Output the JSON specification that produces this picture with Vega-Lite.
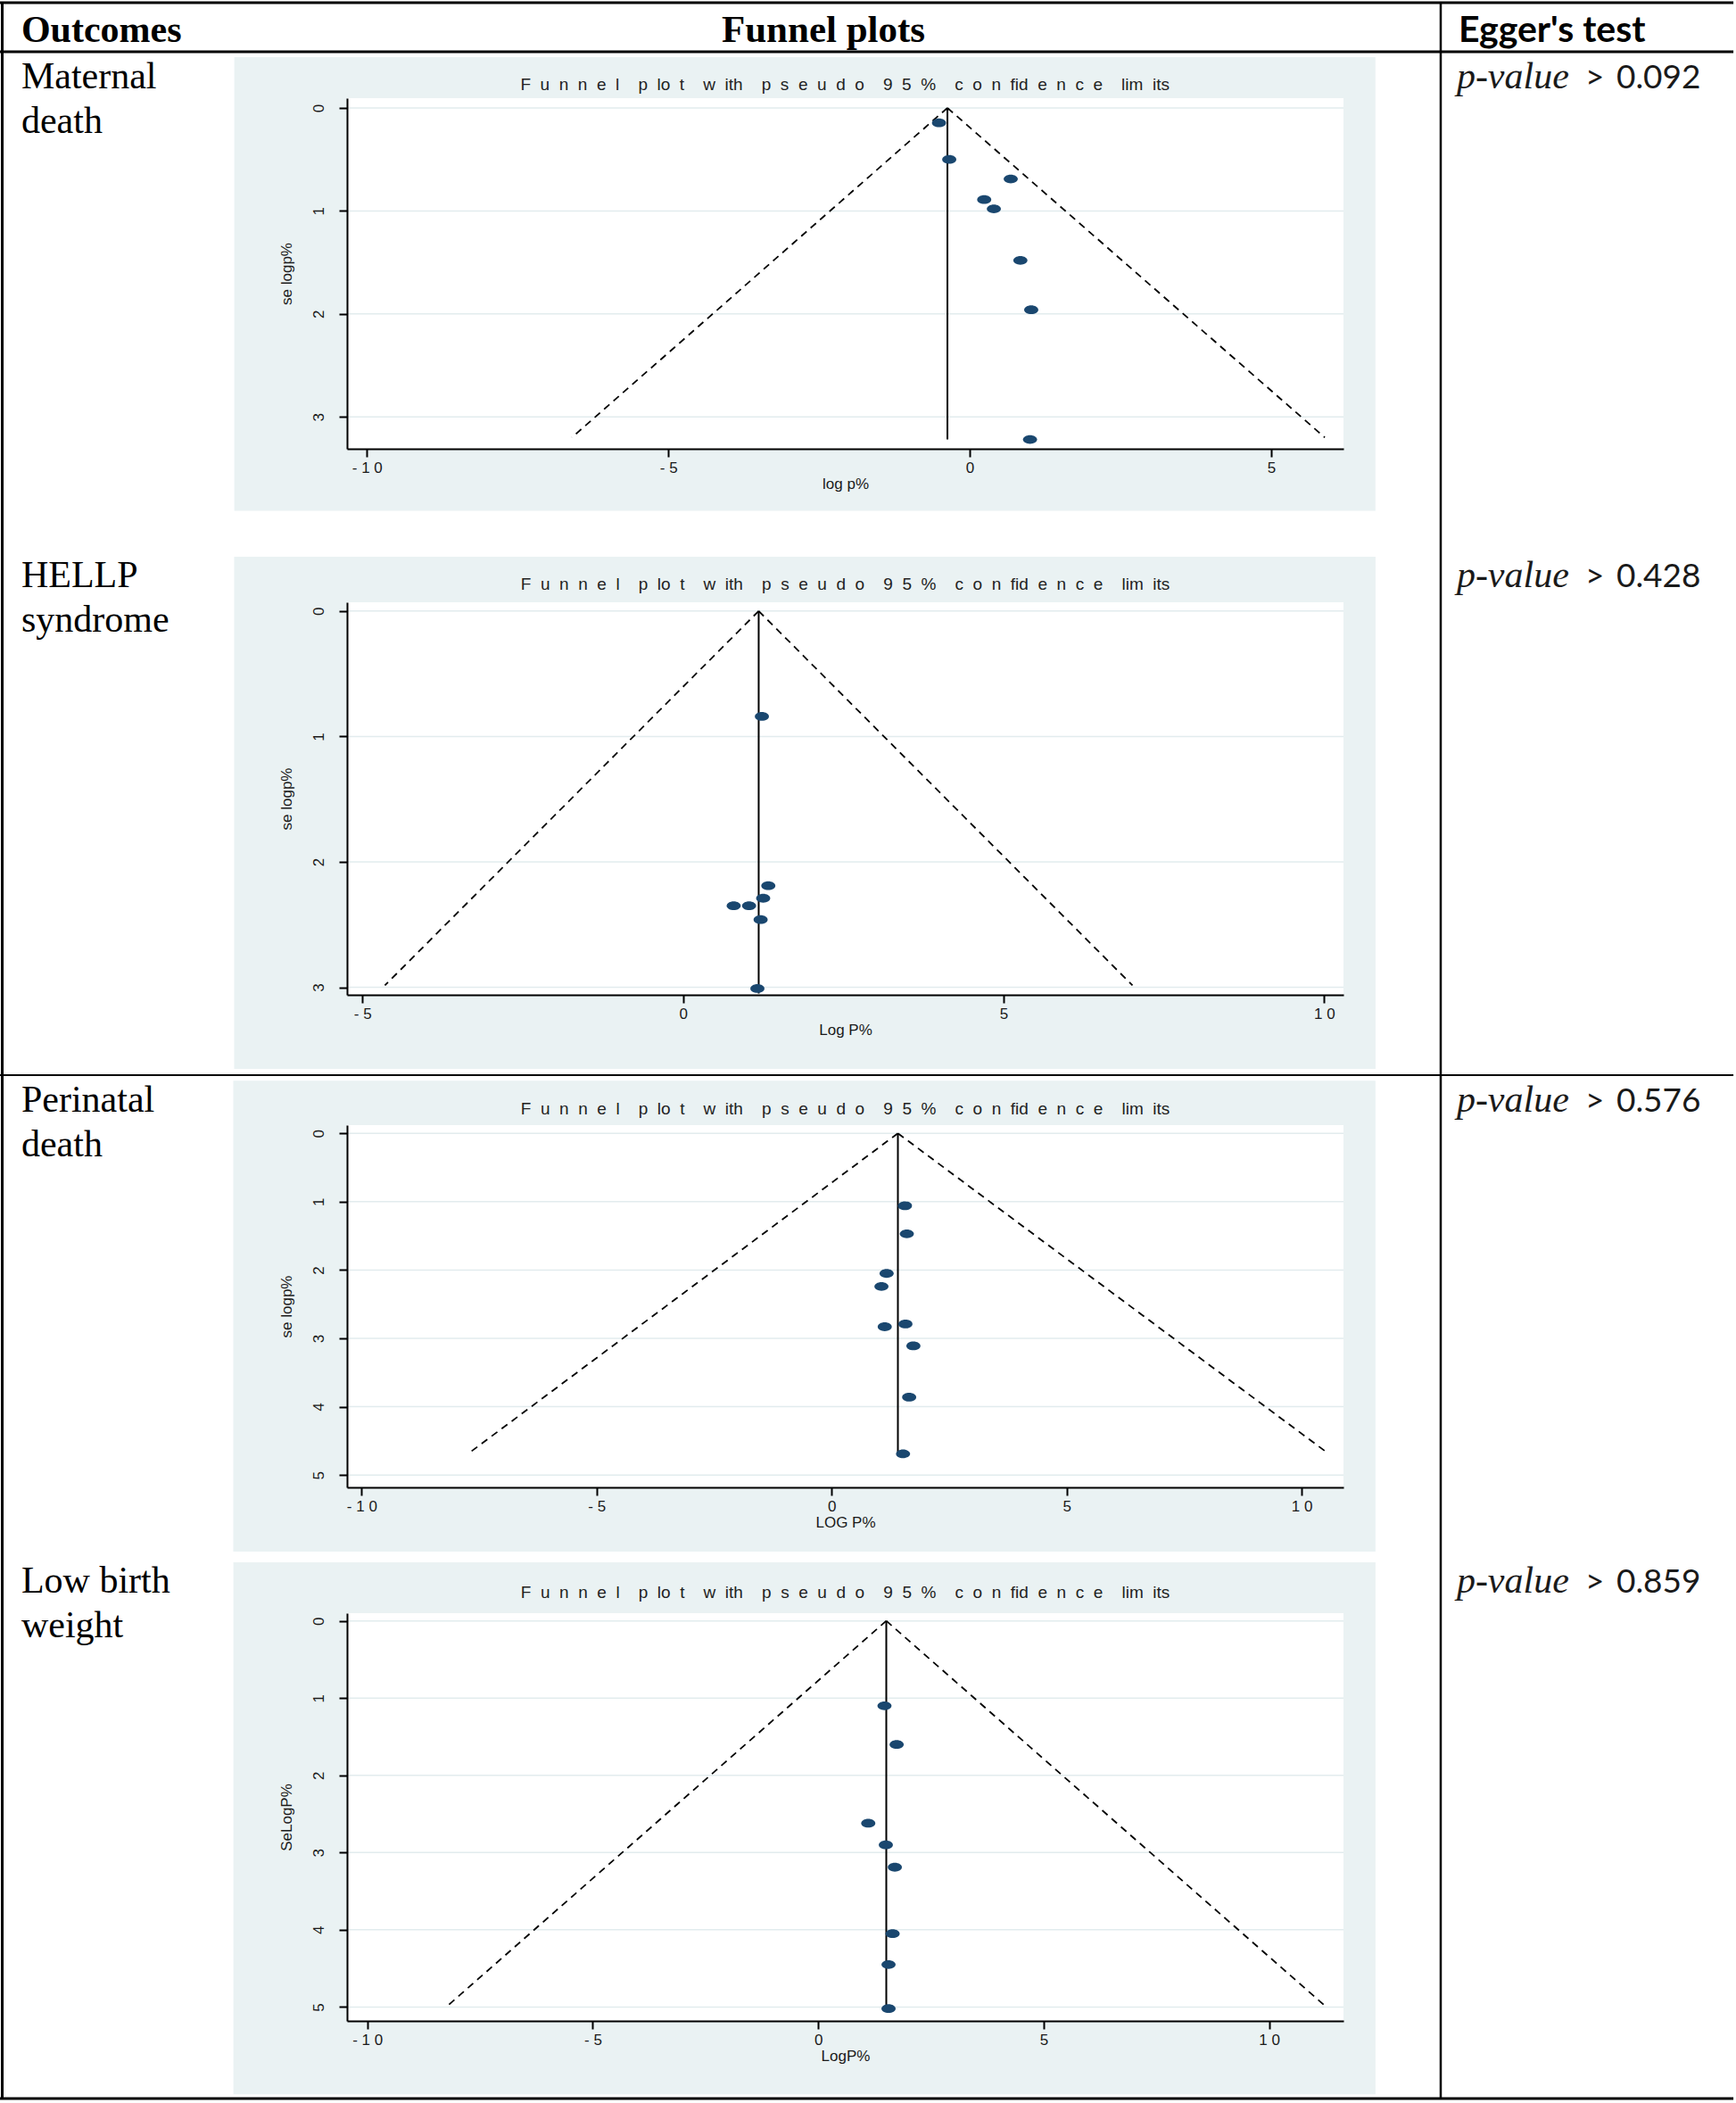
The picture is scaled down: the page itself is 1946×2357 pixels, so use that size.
{
"$schema":"https://vega.github.io/schema/vega-lite/v6.json",
"width":1946,"height":2357,
"autosize":{"type":"none"},
"padding":0,
"background":"white",
"config":{"view":{"stroke":null},"axis":{"domainColor":"#000000","domainWidth":2,"tickColor":"#000000","tickWidth":2,"tickSize":9,"labelFont":"Liberation Sans","labelFontSize":17,"labelColor":"#1a1a1a","titleFont":"Liberation Sans","titleFontSize":17,"titleFontWeight":"normal","titleColor":"#1a1a1a","grid":false}},
"datasets":{
"outcomes":[
{"outcome":"Maternal death","label":"Maternal\ndeath","egger_p":0.092},
{"outcome":"HELLP syndrome","label":"HELLP\nsyndrome","egger_p":0.428},
{"outcome":"Perinatal death","label":"Perinatal\ndeath","egger_p":0.576},
{"outcome":"Low birth weight","label":"Low birth\nweight","egger_p":0.859}
],
"studies":[
{"outcome":"Maternal death","logp":-0.51,"se":0.145},
{"outcome":"Maternal death","logp":-0.34,"se":0.50},
{"outcome":"Maternal death","logp":0.68,"se":0.69},
{"outcome":"Maternal death","logp":0.24,"se":0.89},
{"outcome":"Maternal death","logp":0.40,"se":0.98},
{"outcome":"Maternal death","logp":0.84,"se":1.48},
{"outcome":"Maternal death","logp":1.02,"se":1.96},
{"outcome":"Maternal death","logp":1.00,"se":3.22},
{"outcome":"HELLP syndrome","logp":1.23,"se":0.84},
{"outcome":"HELLP syndrome","logp":1.33,"se":2.19},
{"outcome":"HELLP syndrome","logp":1.25,"se":2.29},
{"outcome":"HELLP syndrome","logp":1.03,"se":2.35},
{"outcome":"HELLP syndrome","logp":0.79,"se":2.35},
{"outcome":"HELLP syndrome","logp":1.21,"se":2.46},
{"outcome":"HELLP syndrome","logp":1.16,"se":3.01},
{"outcome":"Perinatal death","logp":1.56,"se":1.06},
{"outcome":"Perinatal death","logp":1.60,"se":1.47},
{"outcome":"Perinatal death","logp":1.17,"se":2.05},
{"outcome":"Perinatal death","logp":1.06,"se":2.24},
{"outcome":"Perinatal death","logp":1.57,"se":2.79},
{"outcome":"Perinatal death","logp":1.13,"se":2.83},
{"outcome":"Perinatal death","logp":1.74,"se":3.11},
{"outcome":"Perinatal death","logp":1.65,"se":3.86},
{"outcome":"Perinatal death","logp":1.52,"se":4.69},
{"outcome":"Low birth weight","logp":1.47,"se":1.10},
{"outcome":"Low birth weight","logp":1.74,"se":1.60},
{"outcome":"Low birth weight","logp":1.11,"se":2.62},
{"outcome":"Low birth weight","logp":1.50,"se":2.90},
{"outcome":"Low birth weight","logp":1.70,"se":3.19},
{"outcome":"Low birth weight","logp":1.65,"se":4.05},
{"outcome":"Low birth weight","logp":1.56,"se":4.45},
{"outcome":"Low birth weight","logp":1.56,"se":5.02}
],
"funnel":[
{"outcome":"Maternal death","side":"lower","se":0,"logp":-0.37},
{"outcome":"Maternal death","side":"lower","se":3.2,"logp":-6.6},
{"outcome":"Maternal death","side":"upper","se":0,"logp":-0.37},
{"outcome":"Maternal death","side":"upper","se":3.2,"logp":5.89},
{"outcome":"HELLP syndrome","side":"lower","se":0,"logp":1.18},
{"outcome":"HELLP syndrome","side":"lower","se":2.985,"logp":-4.65},
{"outcome":"HELLP syndrome","side":"upper","se":0,"logp":1.18},
{"outcome":"HELLP syndrome","side":"upper","se":2.985,"logp":7.01},
{"outcome":"Perinatal death","side":"lower","se":0,"logp":1.41},
{"outcome":"Perinatal death","side":"lower","se":4.65,"logp":-7.66},
{"outcome":"Perinatal death","side":"upper","se":0,"logp":1.41},
{"outcome":"Perinatal death","side":"upper","se":4.65,"logp":10.5},
{"outcome":"Low birth weight","side":"lower","se":0,"logp":1.51},
{"outcome":"Low birth weight","side":"lower","se":5.0,"logp":-8.25},
{"outcome":"Low birth weight","side":"upper","se":0,"logp":1.51},
{"outcome":"Low birth weight","side":"upper","se":5.0,"logp":11.27}
],
"pooled":[
{"outcome":"Maternal death","logp":-0.37,"se_top":0,"se_max":3.22},
{"outcome":"HELLP syndrome","logp":1.18,"se_top":0,"se_max":3.05},
{"outcome":"Perinatal death","logp":1.41,"se_top":0,"se_max":4.70},
{"outcome":"Low birth weight","logp":1.51,"se_top":0,"se_max":5.02}
],
"grid":[
{"outcome":"Maternal death","se":0},{"outcome":"Maternal death","se":1},{"outcome":"Maternal death","se":2},{"outcome":"Maternal death","se":3},
{"outcome":"HELLP syndrome","se":0},{"outcome":"HELLP syndrome","se":1},{"outcome":"HELLP syndrome","se":2},{"outcome":"HELLP syndrome","se":3},
{"outcome":"Perinatal death","se":0},{"outcome":"Perinatal death","se":1},{"outcome":"Perinatal death","se":2},{"outcome":"Perinatal death","se":3},{"outcome":"Perinatal death","se":4},{"outcome":"Perinatal death","se":5},
{"outcome":"Low birth weight","se":0},{"outcome":"Low birth weight","se":1},{"outcome":"Low birth weight","se":2},{"outcome":"Low birth weight","se":3},{"outcome":"Low birth weight","se":4},{"outcome":"Low birth weight","se":5}
]
},
"layer":[
{
"data":{"values":[{}]},
"layer":[
{"mark":{"type":"rule","color":"#000000","strokeWidth":3},"encoding":{"x":{"datum":0,"type":"quantitative","scale":{"domain":[0,1],"range":[0,1946]},"axis":null},"x2":{"datum":0.9985},"y":{"datum":0.0013,"type":"quantitative","scale":{"domain":[0,1],"range":[0,2357]},"axis":null}}},
{"mark":{"type":"rule","color":"#000000","strokeWidth":3},"encoding":{"x":{"datum":0,"type":"quantitative","axis":null},"x2":{"datum":0.9985},"y":{"datum":0.0246,"type":"quantitative","axis":null}}},
{"mark":{"type":"rule","color":"#000000","strokeWidth":2},"encoding":{"x":{"datum":0,"type":"quantitative","axis":null},"x2":{"datum":0.9985},"y":{"datum":0.5112,"type":"quantitative","axis":null}}},
{"mark":{"type":"rule","color":"#000000","strokeWidth":3},"encoding":{"x":{"datum":0,"type":"quantitative","axis":null},"x2":{"datum":0.9985},"y":{"datum":0.9979,"type":"quantitative","axis":null}}},
{"mark":{"type":"rule","color":"#000000","strokeWidth":3},"encoding":{"x":{"datum":0.0013,"type":"quantitative","axis":null},"y":{"datum":0.0013,"type":"quantitative","axis":null},"y2":{"datum":0.9979}}},
{"mark":{"type":"rule","color":"#000000","strokeWidth":2.5},"encoding":{"x":{"datum":0.8299,"type":"quantitative","axis":null},"y":{"datum":0.0013,"type":"quantitative","axis":null},"y2":{"datum":0.9979}}},
{"mark":{"type":"text","text":"Outcomes","font":"Liberation Serif","fontWeight":"bold","fontSize":42,"align":"left","baseline":"alphabetic","color":"#000000"},"encoding":{"x":{"datum":0.0123,"type":"quantitative","axis":null},"y":{"datum":0.0199,"type":"quantitative","axis":null}}},
{"mark":{"type":"text","text":"Funnel plots","font":"Liberation Serif","fontWeight":"bold","fontSize":43,"align":"center","baseline":"alphabetic","color":"#000000"},"encoding":{"x":{"datum":0.4743,"type":"quantitative","axis":null},"y":{"datum":0.0199,"type":"quantitative","axis":null}}},
{"mark":{"type":"text","text":"Egger's test","font":"Lato","fontWeight":"bold","fontSize":41,"align":"left","baseline":"alphabetic","color":"#000000"},"encoding":{"x":{"datum":0.8402,"type":"quantitative","axis":null},"y":{"datum":0.0199,"type":"quantitative","axis":null}}}
]
},
{
"data":{"name":"outcomes"},
"transform":[{"filter":"datum.outcome === 'Maternal death' || datum.outcome === 'HELLP syndrome'"}],
"layer":[
{"mark":{"type":"text","align":"left","baseline":"alphabetic","font":"Liberation Serif","fontSize":42,"lineBreak":"\n","lineHeight":50,"color":"#000000"},
 "encoding":{"x":{"datum":0.0123,"type":"quantitative","scale":{"domain":[0,1],"range":[0,1946]},"axis":null},
 "y":{"field":"outcome","type":"nominal","scale":{"type":"point","domain":["Maternal death","HELLP syndrome"],"range":[99,658],"padding":0},"axis":null},
 "text":{"field":"label","type":"nominal"}}},
{"mark":{"type":"text","text":"p-value","align":"left","baseline":"alphabetic","font":"Liberation Serif","fontStyle":"italic","fontSize":42,"color":"#1a1a1a"},
 "encoding":{"x":{"datum":0.8391,"type":"quantitative","scale":{"domain":[0,1],"range":[0,1946]},"axis":null},"y":{"field":"outcome","type":"nominal","scale":{"type":"point","domain":["Maternal death","HELLP syndrome"],"range":[99,658],"padding":0},"axis":null}}},
{"mark":{"type":"text","text":">","align":"left","baseline":"alphabetic","font":"Lato","fontSize":37,"color":"#1a1a1a"},
 "encoding":{"x":{"datum":0.9132,"type":"quantitative","scale":{"domain":[0,1],"range":[0,1946]},"axis":null},"y":{"field":"outcome","type":"nominal","scale":{"type":"point","domain":["Maternal death","HELLP syndrome"],"range":[99,658],"padding":0},"axis":null}}},
{"mark":{"type":"text","align":"left","baseline":"alphabetic","font":"Lato","fontSize":37,"color":"#1a1a1a"},
 "encoding":{"x":{"datum":0.9311,"type":"quantitative","scale":{"domain":[0,1],"range":[0,1946]},"axis":null},"y":{"field":"outcome","type":"nominal","scale":{"type":"point","domain":["Maternal death","HELLP syndrome"],"range":[99,658],"padding":0},"axis":null},"text":{"field":"egger_p","type":"quantitative","format":".3f"}}}
]
},
{
"data":{"name":"outcomes"},
"transform":[{"filter":"datum.outcome === 'Perinatal death' || datum.outcome === 'Low birth weight'"}],
"layer":[
{"mark":{"type":"text","align":"left","baseline":"alphabetic","font":"Liberation Serif","fontSize":42,"lineBreak":"\n","lineHeight":50,"color":"#000000"},
 "encoding":{"x":{"datum":0.0123,"type":"quantitative","scale":{"domain":[0,1],"range":[0,1946]},"axis":null},
 "y":{"field":"outcome","type":"nominal","scale":{"type":"point","domain":["Perinatal death","Low birth weight"],"range":[1246,1785],"padding":0},"axis":null},
 "text":{"field":"label","type":"nominal"}}},
{"mark":{"type":"text","text":"p-value","align":"left","baseline":"alphabetic","font":"Liberation Serif","fontStyle":"italic","fontSize":42,"color":"#1a1a1a"},
 "encoding":{"x":{"datum":0.8391,"type":"quantitative","scale":{"domain":[0,1],"range":[0,1946]},"axis":null},"y":{"field":"outcome","type":"nominal","scale":{"type":"point","domain":["Perinatal death","Low birth weight"],"range":[1246,1785],"padding":0},"axis":null}}},
{"mark":{"type":"text","text":">","align":"left","baseline":"alphabetic","font":"Lato","fontSize":37,"color":"#1a1a1a"},
 "encoding":{"x":{"datum":0.9132,"type":"quantitative","scale":{"domain":[0,1],"range":[0,1946]},"axis":null},"y":{"field":"outcome","type":"nominal","scale":{"type":"point","domain":["Perinatal death","Low birth weight"],"range":[1246,1785],"padding":0},"axis":null}}},
{"mark":{"type":"text","align":"left","baseline":"alphabetic","font":"Lato","fontSize":37,"color":"#1a1a1a"},
 "encoding":{"x":{"datum":0.9311,"type":"quantitative","scale":{"domain":[0,1],"range":[0,1946]},"axis":null},"y":{"field":"outcome","type":"nominal","scale":{"type":"point","domain":["Perinatal death","Low birth weight"],"range":[1246,1785],"padding":0},"axis":null},"text":{"field":"egger_p","type":"quantitative","format":".3f"}}}
]
},
{
"layer":[
{"data":{"values":[{}]},"mark":{"type":"rect","fill":"#eaf2f3"},"encoding":{"x":{"datum":-12.2,"type":"quantitative","scale":{"domain":[-10.33,6.2],"range":[389,1506],"nice":false,"zero":false},"axis":{"orient":"bottom","offset":-1854,"values":[-10,-5,0,5],"labelExpr":"join(split(''+datum.value,''),' ')","title":"log p%","labelFlush":false,"labelOverlap":false,"labelPadding":4,"titlePadding":2,"zindex":1,"grid":false}},"x2":{"datum":6.73},"y":{"datum":-0.494,"type":"quantitative","scale":{"domain":[-0.095,3.31],"range":[110,503],"nice":false,"zero":false},"axis":{"orient":"left","offset":-389,"values":[0,1,2,3],"format":"d","title":"se logp%","labelAngle":-90,"labelAlign":"center","labelBaseline":"bottom","labelPadding":14,"titlePadding":18,"zindex":1,"grid":false,"labelOverlap":false}},"y2":{"datum":3.913}}},
{"data":{"values":[{}]},"mark":{"type":"rect","fill":"#ffffff"},"encoding":{"x":{"datum":-10.33,"type":"quantitative"},"x2":{"datum":6.2},"y":{"datum":-0.095,"type":"quantitative"},"y2":{"datum":3.31}}},
{"data":{"name":"grid"},"transform":[{"filter":"datum.outcome === 'Maternal death'"}],"mark":{"type":"rule","color":"#e2ecee","strokeWidth":1.5},"encoding":{"x":{"datum":-10.33,"type":"quantitative"},"x2":{"datum":6.2},"y":{"field":"se","type":"quantitative"}}},
{"data":{"name":"funnel"},"transform":[{"filter":"datum.outcome === 'Maternal death'"}],"mark":{"type":"line","color":"#000000","strokeWidth":1.8,"strokeDash":[8,6]},"encoding":{"x":{"field":"logp","type":"quantitative"},"y":{"field":"se","type":"quantitative"},"detail":{"field":"side","type":"nominal"},"order":{"field":"se","type":"quantitative"}}},
{"data":{"name":"pooled"},"transform":[{"filter":"datum.outcome === 'Maternal death'"}],"mark":{"type":"rule","color":"#000000","strokeWidth":2},"encoding":{"x":{"field":"logp","type":"quantitative"},"y":{"field":"se_top","type":"quantitative"},"y2":{"field":"se_max"}}},
{"data":{"name":"studies"},"transform":[{"filter":"datum.outcome === 'Maternal death'"}],"mark":{"type":"point","shape":"M-1,0A1,0.62,0,1,0,1,0A1,0.62,0,1,0,-1,0Z","filled":true,"color":"#1a476f","size":250,"opacity":1},"encoding":{"x":{"field":"logp","type":"quantitative"},"y":{"field":"se","type":"quantitative"}}},
{"data":{"values":[{}]},"mark":{"type":"text","text":"F \u00a0u \u00a0n \u00a0n \u00a0e \u00a0l \u00a0 \u00a0p \u00a0lo \u00a0t \u00a0 \u00a0w \u00a0ith \u00a0 \u00a0p \u00a0s \u00a0e \u00a0u \u00a0d \u00a0o \u00a0 \u00a09 \u00a05 \u00a0% \u00a0 \u00a0c \u00a0o \u00a0n \u00a0fid \u00a0e \u00a0n \u00a0c \u00a0e \u00a0 \u00a0lim \u00a0its","font":"Liberation Sans","fontSize":19,"color":"#222222","align":"center","baseline":"middle"},"encoding":{"x":{"datum":-2.07,"type":"quantitative"},"y":{"datum":-0.225,"type":"quantitative"}}}
]
},
{
"layer":[
{"data":{"values":[{}]},"mark":{"type":"rect","fill":"#eaf2f3"},"encoding":{"x":{"datum":-7.0,"type":"quantitative","scale":{"domain":[-5.24,10.3],"range":[389,1506],"nice":false,"zero":false},"axis":{"orient":"bottom","offset":-1242,"values":[-5,0,5,10],"labelExpr":"join(split(''+datum.value,''),' ')","title":"Log P%","labelFlush":false,"labelOverlap":false,"labelPadding":4,"titlePadding":2,"zindex":1,"grid":false}},"x2":{"datum":10.8},"y":{"datum":-0.432,"type":"quantitative","scale":{"domain":[-0.07,3.06],"range":[675,1115],"nice":false,"zero":false},"axis":{"orient":"left","offset":-389,"values":[0,1,2,3],"format":"d","title":"se logp%","labelAngle":-90,"labelAlign":"center","labelBaseline":"bottom","labelPadding":14,"titlePadding":18,"zindex":1,"grid":false,"labelOverlap":false}},"y2":{"datum":3.65}}},
{"data":{"values":[{}]},"mark":{"type":"rect","fill":"#ffffff"},"encoding":{"x":{"datum":-5.24,"type":"quantitative"},"x2":{"datum":10.3},"y":{"datum":-0.07,"type":"quantitative"},"y2":{"datum":3.06}}},
{"data":{"name":"grid"},"transform":[{"filter":"datum.outcome === 'HELLP syndrome'"}],"mark":{"type":"rule","color":"#e2ecee","strokeWidth":1.5},"encoding":{"x":{"datum":-5.24,"type":"quantitative"},"x2":{"datum":10.3},"y":{"field":"se","type":"quantitative"}}},
{"data":{"name":"funnel"},"transform":[{"filter":"datum.outcome === 'HELLP syndrome'"}],"mark":{"type":"line","color":"#000000","strokeWidth":1.8,"strokeDash":[8,6]},"encoding":{"x":{"field":"logp","type":"quantitative"},"y":{"field":"se","type":"quantitative"},"detail":{"field":"side","type":"nominal"},"order":{"field":"se","type":"quantitative"}}},
{"data":{"name":"pooled"},"transform":[{"filter":"datum.outcome === 'HELLP syndrome'"}],"mark":{"type":"rule","color":"#000000","strokeWidth":2},"encoding":{"x":{"field":"logp","type":"quantitative"},"y":{"field":"se_top","type":"quantitative"},"y2":{"field":"se_max"}}},
{"data":{"name":"studies"},"transform":[{"filter":"datum.outcome === 'HELLP syndrome'"}],"mark":{"type":"point","shape":"M-1,0A1,0.62,0,1,0,1,0A1,0.62,0,1,0,-1,0Z","filled":true,"color":"#1a476f","size":250,"opacity":1},"encoding":{"x":{"field":"logp","type":"quantitative"},"y":{"field":"se","type":"quantitative"}}},
{"data":{"values":[{}]},"mark":{"type":"text","text":"F \u00a0u \u00a0n \u00a0n \u00a0e \u00a0l \u00a0 \u00a0p \u00a0lo \u00a0t \u00a0 \u00a0w \u00a0ith \u00a0 \u00a0p \u00a0s \u00a0e \u00a0u \u00a0d \u00a0o \u00a0 \u00a09 \u00a05 \u00a0% \u00a0 \u00a0c \u00a0o \u00a0n \u00a0fid \u00a0e \u00a0n \u00a0c \u00a0e \u00a0 \u00a0lim \u00a0its","font":"Liberation Sans","fontSize":19,"color":"#222222","align":"center","baseline":"middle"},"encoding":{"x":{"datum":2.53,"type":"quantitative"},"y":{"datum":-0.212,"type":"quantitative"}}}
]
},
{
"layer":[
{"data":{"values":[{}]},"mark":{"type":"rect","fill":"#eaf2f3"},"encoding":{"x":{"datum":-12.73,"type":"quantitative","scale":{"domain":[-10.31,10.89],"range":[389,1506],"nice":false,"zero":false},"axis":{"orient":"bottom","offset":-690,"values":[-10,-5,0,5,10],"labelExpr":"join(split(''+datum.value,''),' ')","title":"LOG P%","labelFlush":false,"labelOverlap":false,"labelPadding":4,"titlePadding":2,"zindex":1,"grid":false}},"x2":{"datum":11.57},"y":{"datum":-0.77,"type":"quantitative","scale":{"domain":[-0.12,5.18],"range":[1261,1667],"nice":false,"zero":false},"axis":{"orient":"left","offset":-389,"values":[0,1,2,3,4,5],"format":"d","title":"se logp%","labelAngle":-90,"labelAlign":"center","labelBaseline":"bottom","labelPadding":14,"titlePadding":18,"zindex":1,"grid":false,"labelOverlap":false}},"y2":{"datum":6.12}}},
{"data":{"values":[{}]},"mark":{"type":"rect","fill":"#ffffff"},"encoding":{"x":{"datum":-10.31,"type":"quantitative"},"x2":{"datum":10.89},"y":{"datum":-0.12,"type":"quantitative"},"y2":{"datum":5.18}}},
{"data":{"name":"grid"},"transform":[{"filter":"datum.outcome === 'Perinatal death'"}],"mark":{"type":"rule","color":"#e2ecee","strokeWidth":1.5},"encoding":{"x":{"datum":-10.31,"type":"quantitative"},"x2":{"datum":10.89},"y":{"field":"se","type":"quantitative"}}},
{"data":{"name":"funnel"},"transform":[{"filter":"datum.outcome === 'Perinatal death'"}],"mark":{"type":"line","color":"#000000","strokeWidth":1.8,"strokeDash":[8,6]},"encoding":{"x":{"field":"logp","type":"quantitative"},"y":{"field":"se","type":"quantitative"},"detail":{"field":"side","type":"nominal"},"order":{"field":"se","type":"quantitative"}}},
{"data":{"name":"pooled"},"transform":[{"filter":"datum.outcome === 'Perinatal death'"}],"mark":{"type":"rule","color":"#000000","strokeWidth":2},"encoding":{"x":{"field":"logp","type":"quantitative"},"y":{"field":"se_top","type":"quantitative"},"y2":{"field":"se_max"}}},
{"data":{"name":"studies"},"transform":[{"filter":"datum.outcome === 'Perinatal death'"}],"mark":{"type":"point","shape":"M-1,0A1,0.62,0,1,0,1,0A1,0.62,0,1,0,-1,0Z","filled":true,"color":"#1a476f","size":250,"opacity":1},"encoding":{"x":{"field":"logp","type":"quantitative"},"y":{"field":"se","type":"quantitative"}}},
{"data":{"values":[{}]},"mark":{"type":"text","text":"F \u00a0u \u00a0n \u00a0n \u00a0e \u00a0l \u00a0 \u00a0p \u00a0lo \u00a0t \u00a0 \u00a0w \u00a0ith \u00a0 \u00a0p \u00a0s \u00a0e \u00a0u \u00a0d \u00a0o \u00a0 \u00a09 \u00a05 \u00a0% \u00a0 \u00a0c \u00a0o \u00a0n \u00a0fid \u00a0e \u00a0n \u00a0c \u00a0e \u00a0 \u00a0lim \u00a0its","font":"Liberation Sans","fontSize":19,"color":"#222222","align":"center","baseline":"middle"},"encoding":{"x":{"datum":0.29,"type":"quantitative"},"y":{"datum":-0.352,"type":"quantitative"}}}
]
},
{
"layer":[
{"data":{"values":[{}]},"mark":{"type":"rect","fill":"#eaf2f3"},"encoding":{"x":{"datum":-12.97,"type":"quantitative","scale":{"domain":[-10.45,11.65],"range":[389,1506],"nice":false,"zero":false},"axis":{"orient":"bottom","offset":-92,"values":[-10,-5,0,5,10],"labelExpr":"join(split(''+datum.value,''),' ')","title":"LogP%","labelFlush":false,"labelOverlap":false,"labelPadding":4,"titlePadding":2,"zindex":1,"grid":false}},"x2":{"datum":12.36},"y":{"datum":-0.76,"type":"quantitative","scale":{"domain":[-0.1,5.18],"range":[1808,2265],"nice":false,"zero":false},"axis":{"orient":"left","offset":-389,"values":[0,1,2,3,4,5],"format":"d","title":"SeLogP%","labelAngle":-90,"labelAlign":"center","labelBaseline":"bottom","labelPadding":14,"titlePadding":18,"zindex":1,"grid":false,"labelOverlap":false}},"y2":{"datum":6.13}}},
{"data":{"values":[{}]},"mark":{"type":"rect","fill":"#ffffff"},"encoding":{"x":{"datum":-10.45,"type":"quantitative"},"x2":{"datum":11.65},"y":{"datum":-0.1,"type":"quantitative"},"y2":{"datum":5.18}}},
{"data":{"name":"grid"},"transform":[{"filter":"datum.outcome === 'Low birth weight'"}],"mark":{"type":"rule","color":"#e2ecee","strokeWidth":1.5},"encoding":{"x":{"datum":-10.45,"type":"quantitative"},"x2":{"datum":11.65},"y":{"field":"se","type":"quantitative"}}},
{"data":{"name":"funnel"},"transform":[{"filter":"datum.outcome === 'Low birth weight'"}],"mark":{"type":"line","color":"#000000","strokeWidth":1.8,"strokeDash":[8,6]},"encoding":{"x":{"field":"logp","type":"quantitative"},"y":{"field":"se","type":"quantitative"},"detail":{"field":"side","type":"nominal"},"order":{"field":"se","type":"quantitative"}}},
{"data":{"name":"pooled"},"transform":[{"filter":"datum.outcome === 'Low birth weight'"}],"mark":{"type":"rule","color":"#000000","strokeWidth":2},"encoding":{"x":{"field":"logp","type":"quantitative"},"y":{"field":"se_top","type":"quantitative"},"y2":{"field":"se_max"}}},
{"data":{"name":"studies"},"transform":[{"filter":"datum.outcome === 'Low birth weight'"}],"mark":{"type":"point","shape":"M-1,0A1,0.62,0,1,0,1,0A1,0.62,0,1,0,-1,0Z","filled":true,"color":"#1a476f","size":250,"opacity":1},"encoding":{"x":{"field":"logp","type":"quantitative"},"y":{"field":"se","type":"quantitative"}}},
{"data":{"values":[{}]},"mark":{"type":"text","text":"F \u00a0u \u00a0n \u00a0n \u00a0e \u00a0l \u00a0 \u00a0p \u00a0lo \u00a0t \u00a0 \u00a0w \u00a0ith \u00a0 \u00a0p \u00a0s \u00a0e \u00a0u \u00a0d \u00a0o \u00a0 \u00a09 \u00a05 \u00a0% \u00a0 \u00a0c \u00a0o \u00a0n \u00a0fid \u00a0e \u00a0n \u00a0c \u00a0e \u00a0 \u00a0lim \u00a0its","font":"Liberation Sans","fontSize":19,"color":"#222222","align":"center","baseline":"middle"},"encoding":{"x":{"datum":0.6,"type":"quantitative"},"y":{"datum":-0.368,"type":"quantitative"}}}
]
}
],
"resolve":{"scale":{"x":"independent","y":"independent"}}
}
